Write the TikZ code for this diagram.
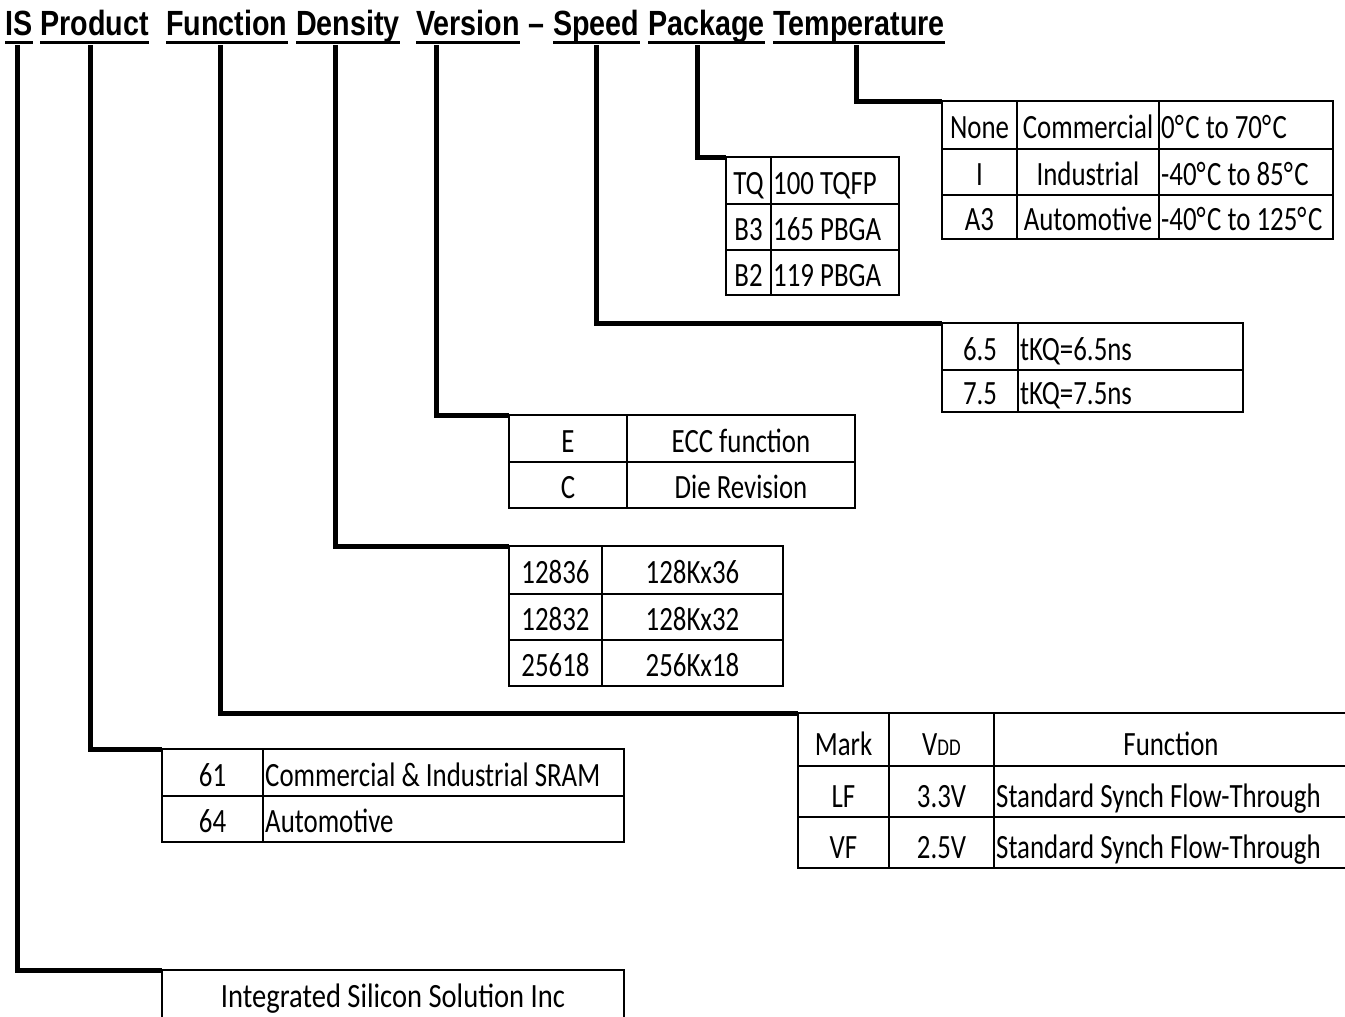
\documentclass[tikz,border=0pt]{standalone}
\usepackage{fontspec}
\setmainfont{Carlito}[FakeStretch=0.79]
\newfontfamily\wideish{Carlito}[FakeStretch=0.84]
\newfontfamily\hdrfont{Liberation Sans}[FakeStretch=0.82]
\newcommand\degC{°\kern1.5pt C}
\tikzset{
  x=1pt, y=-1pt,
  hdr/.style={inner sep=0pt, anchor=base west, font=\hdrfont\bfseries\fontsize{35}{40}\selectfont},
  uline/.style={line width=3pt},
  conn/.style={line width=5pt, line join=miter},
  cell/.style={draw, line width=2.3pt, inner sep=0pt, outer sep=0pt, anchor=north west},
  txt/.style={inner sep=0pt, text height=21pt, text depth=0pt, yshift=-3pt, font=\fontsize{34}{40}\selectfont}
}
\newcommand\cellc[6]{%
  \node[cell, minimum width={(#4-#2)*1pt}, minimum height={(#5-#3)*1pt}] (#1) at (#2,#3) {};
  \node[txt] (#1t) at (#1.center) {#6};}
\newcommand\celll[6]{%
  \node[cell, minimum width={(#4-#2)*1pt}, minimum height={(#5-#3)*1pt}] (#1) at (#2,#3) {};
  \node[txt, anchor=west] (#1t) at ([xshift=2pt]#1.west) {#6};}
\begin{document}
\begin{tikzpicture}
\useasboundingbox (0,0) rectangle (1345,1017);
\clip (0,0) rectangle (1345,1017);
% header
\node[hdr] (hIS) at (5,35) {IS};
\node[hdr] (hPr) at (40,35) {Product};
\node[hdr] (hFu) at (166,35) {Function};
\node[hdr] (hDe) at (296,35) {Density};
\node[hdr] (hVe) at (416,35) {Version};
\node[hdr] (hDash) at (528,35) {–};
\node[hdr] (hSp) at (553,35) {Speed};
\node[hdr] (hPa) at (648,35) {Package};
\node[hdr] (hTe) at (773,35) {Temperature};
\foreach \n in {hIS,hPr,hFu,hDe,hVe,hSp,hPa,hTe}
  \draw[uline] ([yshift=-7pt]\n.base west) -- ([yshift=-7pt]\n.base east);
% connector start points
\coordinate (cIS) at (17,45);
\coordinate (cPr) at (90,45);
\coordinate (cFu) at (220,45);
\coordinate (cDe) at (335,45);
\coordinate (cVe) at (436,45);
\coordinate (cSp) at (596,45);
\coordinate (cPa) at (697,45);
\coordinate (cTe) at (856,45);
% Temperature table
\cellc{t11}{942}{101}{1017}{149}{None}
\cellc{t12}{1017}{101}{1159}{149}{Commercial}
\celll{t13}{1159}{101}{1333}{149}{0\degC{} to 70\degC}
\cellc{t21}{942}{149}{1017}{195}{I}
\cellc{t22}{1017}{149}{1159}{195}{Industrial}
\celll{t23}{1159}{149}{1333}{195}{-40\degC{} to 85\degC}
\cellc{t31}{942}{195}{1017}{239}{A3}
\cellc{t32}{1017}{195}{1159}{239}{Automotive}
\celll{t33}{1159}{195}{1333}{239}{-40\degC{} to 125\degC}
% Package table
\cellc{p11}{726}{157}{771}{204}{TQ}
\celll{p12}{771}{157}{899}{204}{100 TQFP}
\cellc{p21}{726}{204}{771}{250}{B3}
\celll{p22}{771}{204}{899}{250}{165 PBGA}
\cellc{p31}{726}{250}{771}{295}{B2}
\celll{p32}{771}{250}{899}{295}{119 PBGA}
% Speed table
\cellc{s11}{942}{323}{1018}{370}{6.5}
\celll{s12}{1018}{323}{1243}{370}{tKQ=6.5ns}
\cellc{s21}{942}{370}{1018}{412}{7.5}
\celll{s22}{1018}{370}{1243}{412}{tKQ=7.5ns}
% Version table
\cellc{v11}{509}{415}{627}{462}{E}
\cellc{v12}{627}{415}{855}{462}{ECC function}
\cellc{v21}{509}{462}{627}{508}{C}
\cellc{v22}{627}{462}{855}{508}{Die Revision}
% Density table
\cellc{d11}{509}{546}{602}{594}{12836}
\cellc{d12}{602}{546}{783}{594}{128Kx36}
\cellc{d21}{509}{594}{602}{640}{12832}
\cellc{d22}{602}{594}{783}{640}{128Kx32}
\cellc{d31}{509}{640}{602}{686}{25618}
\cellc{d32}{602}{640}{783}{686}{256Kx18}
% Function table
\begin{scope}[txt/.append style={yshift=-2pt}]
\cellc{f11}{798}{713}{889}{766}{Mark}
\cellc{f12}{889}{713}{994}{766}{V{\fontsize{24}{28}\selectfont DD}}
\cellc{f13}{994}{713}{1348}{766}{Function}
\cellc{f21}{798}{766}{889}{817}{LF}
\cellc{f22}{889}{766}{994}{817}{3.3V}
\celll{f23}{994}{766}{1348}{817}{Standard Synch Flow-Through}
\cellc{f31}{798}{817}{889}{868}{VF}
\cellc{f32}{889}{817}{994}{868}{2.5V}
\celll{f33}{994}{817}{1348}{868}{Standard Synch Flow-Through}
\end{scope}
% Product table
\cellc{r11}{162}{749}{263}{796}{61}
\celll{r12}{263}{749}{624}{796}{Commercial \& Industrial SRAM}
\cellc{r21}{162}{796}{263}{842}{64}
\celll{r22}{263}{796}{624}{842}{Automotive}
% IS table
\begin{scope}[txt/.append style={yshift=4pt}]
\cellc{i11}{162}{970}{624}{1026}{\wideish Integrated Silicon Solution Inc}
\end{scope}
% connectors
\draw[conn] (cIS) |- (i11.north west);
\draw[conn] (cPr) |- (r11.north west);
\draw[conn] (cFu) |- (f11.north west);
\draw[conn] (cDe) |- (d11.north west);
\draw[conn] (cVe) |- (v11.north west);
\draw[conn] (cSp) |- (s11.north west);
\draw[conn] (cPa) |- (p11.north west);
\draw[conn] (cTe) |- (t11.north west);
\end{tikzpicture}
\end{document}
